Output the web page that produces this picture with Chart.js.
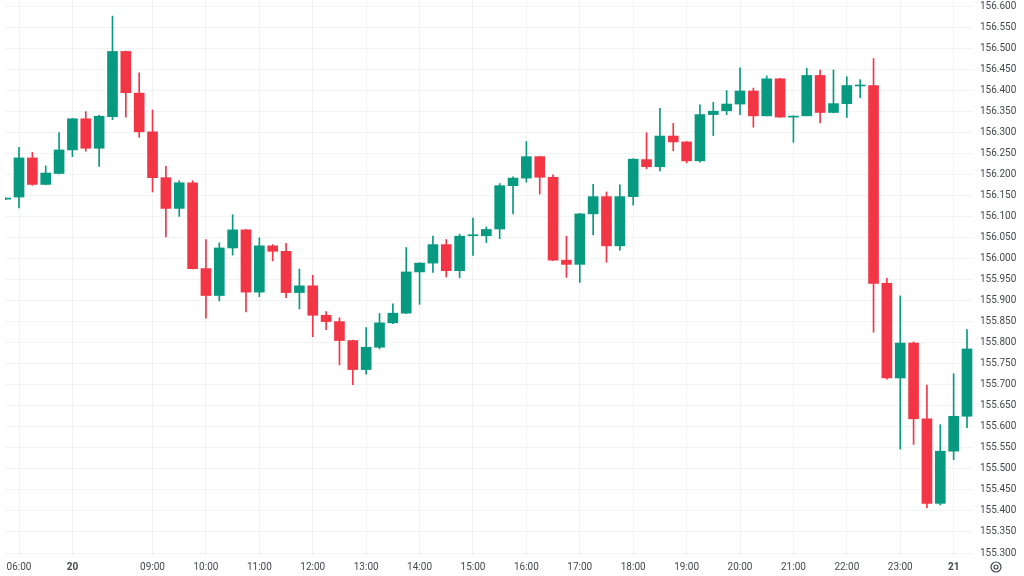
<!DOCTYPE html>
<html>
<head>
<meta charset="utf-8">
<script src="https://cdn.jsdelivr.net/npm/chart.js@4.4.1/dist/chart.umd.min.js"></script>
<style>
  html, body { margin: 0; padding: 0; background: #ffffff; }
  #chart { display: block; }
</style>
</head>
<body>
<canvas id="chart" width="1024" height="576"></canvas>
<script>
// 15 minute candles, bar index 0..72
const openVals = [
    156.141, 156.146, 156.239, 156.176, 156.202, 156.258, 156.332, 156.262, 156.337, 156.492,
    156.393, 156.301, 156.192, 156.119, 156.180, 155.976, 155.912, 156.025, 156.068, 155.920,
    156.030, 156.017, 155.919, 155.935, 155.865, 155.850, 155.805, 155.736, 155.789, 155.847,
    155.870, 155.968, 155.989, 156.033, 155.971, 156.054, 156.054, 156.070, 156.173, 156.191,
    156.242, 156.193, 155.996, 155.986, 156.106, 156.147, 156.030, 156.147, 156.235, 156.218,
    156.291, 156.277, 156.232, 156.342, 156.351, 156.367, 156.398, 156.339, 156.427, 156.336,
    156.339, 156.435, 156.347, 156.368, 156.410, 156.411, 155.941, 155.716, 155.799, 155.619,
    155.418, 155.542, 155.625
];
const highVals = [
    156.144, 156.264, 156.252, 156.220, 156.299, 156.333, 156.349, 156.340, 156.576, 156.493,
    156.441, 156.353, 156.219, 156.185, 156.185, 156.045, 156.037, 156.104, 156.069, 156.049,
    156.033, 156.036, 155.975, 155.960, 155.874, 155.859, 155.806, 155.836, 155.869, 155.892,
    156.026, 155.990, 156.053, 156.045, 156.058, 156.096, 156.075, 156.178, 156.194, 156.278,
    156.243, 156.199, 156.053, 156.107, 156.176, 156.158, 156.175, 156.237, 156.299, 156.357,
    156.321, 156.278, 156.365, 156.371, 156.399, 156.453, 156.405, 156.434, 156.428, 156.339,
    156.452, 156.448, 156.448, 156.432, 156.425, 156.475, 155.953, 155.911, 155.802, 155.699,
    155.605, 155.726, 155.831
];
const lowVals = [
    156.140, 156.120, 156.174, 156.175, 156.201, 156.242, 156.255, 156.219, 156.330, 156.336,
    156.288, 156.158, 156.051, 156.100, 155.975, 155.858, 155.899, 156.008, 155.873, 155.909,
    155.994, 155.907, 155.880, 155.814, 155.831, 155.747, 155.700, 155.725, 155.785, 155.845,
    155.869, 155.891, 155.967, 155.956, 155.954, 156.007, 156.038, 156.047, 156.106, 156.181,
    156.153, 155.995, 155.955, 155.943, 156.056, 155.991, 156.020, 156.127, 156.213, 156.208,
    156.256, 156.227, 156.229, 156.292, 156.342, 156.342, 156.312, 156.339, 156.335, 156.276,
    156.339, 156.322, 156.346, 156.335, 156.382, 155.825, 155.713, 155.547, 155.558, 155.407,
    155.414, 155.522, 155.598
];
const closeVals = [
    156.143, 156.239, 156.176, 156.203, 156.258, 156.332, 156.262, 156.338, 156.492, 156.394,
    156.301, 156.192, 156.119, 156.180, 155.976, 155.912, 156.025, 156.068, 155.920, 156.030,
    156.017, 155.919, 155.935, 155.865, 155.850, 155.805, 155.736, 155.789, 155.847, 155.870,
    155.968, 155.989, 156.033, 155.971, 156.053, 156.056, 156.069, 156.173, 156.191, 156.242,
    156.193, 155.996, 155.986, 156.106, 156.147, 156.030, 156.147, 156.236, 156.218, 156.291,
    156.277, 156.232, 156.342, 156.350, 156.367, 156.398, 156.339, 156.427, 156.336, 156.338,
    156.435, 156.347, 156.368, 156.411, 156.412, 155.941, 155.716, 155.799, 155.619, 155.418,
    155.542, 155.625, 155.785
];

// time axis labels (bar index -> text); day marks drawn bold
const tickIdx = [1, 5, 11, 15, 19, 23, 27, 31, 35, 39, 43, 47, 51, 55, 59, 63, 67, 71];
const tickText = ['06:00', '20', '09:00', '10:00', '11:00', '12:00', '13:00', '14:00', '15:00',
    '16:00', '17:00', '18:00', '19:00', '20:00', '21:00', '22:00', '23:00', '21'];
const dayIdx = [5, 71];

const priceTicks = [
    155.300, 155.350, 155.400, 155.450, 155.500, 155.550, 155.600, 155.650, 155.700,
    155.750, 155.800, 155.850, 155.900, 155.950, 156.000, 156.050, 156.100, 156.150,
    156.200, 156.250, 156.300, 156.350, 156.400, 156.450, 156.500, 156.550, 156.600
];

const UP = '#089981';
const DOWN = '#f23645';
const TEXT = '#45484f';
const GRID = 'rgba(42, 46, 57, 0.06)';

const bodies = openVals.map((o, i) => ({ x: i, y: [o, closeVals[i]] }));
const wicks = lowVals.map((l, i) => ({ x: i, y: [l, highVals[i]] }));
const colors = openVals.map((o, i) => closeVals[i] >= o ? UP : DOWN);

const gearIcon = {
    id: 'gearIcon',
    afterDraw(chart) {
        const ctx = chart.ctx;
        ctx.save();
        ctx.strokeStyle = TEXT;
        ctx.lineWidth = 1.2;
        ctx.beginPath();
        ctx.arc(996, 567, 5, 0, Math.PI * 2);
        ctx.stroke();
        ctx.beginPath();
        ctx.arc(996, 567, 2, 0, Math.PI * 2);
        ctx.stroke();
        ctx.restore();
    }
};

function noPad(scale) {
    scale.paddingTop = 0;
    scale.paddingBottom = 0;
    scale.paddingLeft = 0;
    scale.paddingRight = 0;
}

new Chart(document.getElementById('chart'), {
    type: 'bar',
    data: {
        datasets: [
            {
                data: wicks,
                backgroundColor: colors,
                barThickness: 1,
                grouped: false,
                order: 2,
                clip: 0
            },
            {
                data: bodies,
                backgroundColor: colors,
                barThickness: 10,
                minBarLength: 1,
                grouped: false,
                order: 1,
                clip: 0
            }
        ]
    },
    options: {
        responsive: false,
        animation: false,
        layout: { padding: { left: 5, top: 0, right: 0, bottom: 0 } },
        plugins: {
            legend: { display: false },
            tooltip: { enabled: false }
        },
        scales: {
            x: {
                type: 'linear',
                position: 'bottom',
                offset: false,
                min: -0.05,
                max: 72.45,
                border: { display: false },
                grid: { color: GRID, drawTicks: false, offset: false },
                afterBuildTicks: scale => {
                    scale.ticks = tickIdx.map(v => ({ value: v }));
                },
                afterFit: scale => {
                    scale.height = 20;
                    noPad(scale);
                },
                ticks: {
                    autoSkip: false,
                    maxRotation: 0,
                    padding: 5,
                    color: TEXT,
                    font: ctx => ({
                        family: 'Roboto, sans-serif',
                        size: 10,
                        weight: ctx.tick && dayIdx.includes(ctx.tick.value) ? 'bold' : 'normal'
                    }),
                    callback: v => tickText[tickIdx.indexOf(v)]
                }
            },
            y: {
                type: 'linear',
                position: 'right',
                min: 155.2929,
                max: 156.6143,
                border: { display: false },
                grid: { color: GRID, drawTicks: false },
                afterBuildTicks: scale => {
                    scale.ticks = priceTicks.map(v => ({ value: v }));
                },
                afterFit: scale => {
                    scale.width = 51;
                    noPad(scale);
                },
                ticks: {
                    padding: 7,
                    color: TEXT,
                    font: { family: 'Roboto, sans-serif', size: 10 },
                    callback: v => v.toFixed(3)
                }
            }
        }
    },
    plugins: [gearIcon]
});
</script>
</body>
</html>
